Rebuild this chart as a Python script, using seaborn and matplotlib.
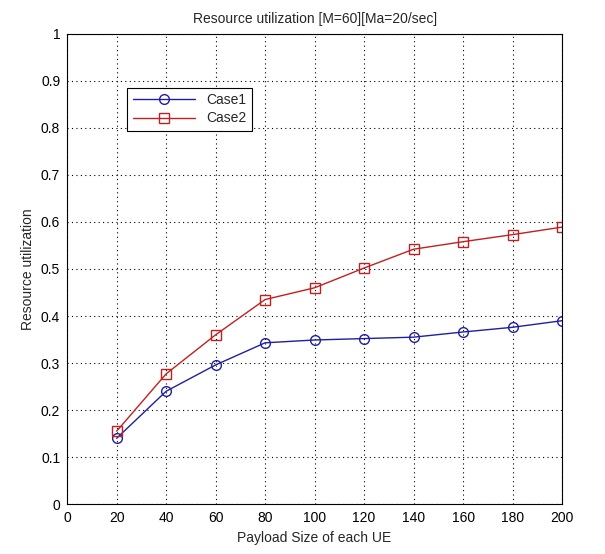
import numpy as np
import pandas as pd
import matplotlib
matplotlib.use('Agg')
import matplotlib.pyplot as plt
import seaborn as sns

payload = [20, 40, 60, 80, 100, 120, 140, 160, 180, 200]
case1 = [0.140, 0.240, 0.296, 0.343, 0.349, 0.352, 0.355, 0.366, 0.376, 0.390]
case2 = [0.155, 0.277, 0.360, 0.435, 0.460, 0.502, 0.542, 0.558, 0.573, 0.589]

df = pd.DataFrame({
    'Payload': payload * 2,
    'Util': case1 + case2,
    'Case': ['Case1'] * len(payload) + ['Case2'] * len(payload),
})

sns.set_theme(style='white')
plt.rcParams['font.family'] = ['Liberation Sans', 'DejaVu Sans']

fig = plt.figure(figsize=(6.05, 5.54), dpi=100)
ax = fig.add_axes([0.111, 0.09, 0.818, 0.849])

sns.lineplot(data=df, x='Payload', y='Util', hue='Case', style='Case',
             palette={'Case1': '#1f1f9f', 'Case2': '#c02020'},
             markers={'Case1': 'o', 'Case2': 's'}, dashes=False,
             markerfacecolor='none', markersize=7, markeredgewidth=1.0,
             linewidth=1.0, ax=ax)

# marker edges follow line colour
for line in ax.get_lines():
    line.set_markeredgecolor(line.get_color())
    line.set_markerfacecolor('none')

ax.set_xlim(0, 200)
ax.set_ylim(0, 1)
ax.set_xticks(np.arange(0, 201, 20))
ax.set_yticks(np.arange(0, 1.01, 0.1))
ax.set_yticklabels(['0', '0.1', '0.2', '0.3', '0.4', '0.5', '0.6', '0.7', '0.8', '0.9', '1'])
ax.grid(True, linestyle=(0, (1, 3)), color='black', linewidth=0.8)
ax.tick_params(direction='in', length=4, labelsize=10, colors='black', pad=5)
for s in ax.spines.values():
    s.set_color('black')
    s.set_linewidth(0.8)

ax.set_xlabel('Payload Size of each UE', fontsize=10)
ax.set_ylabel('Resource utilization', fontsize=10)
ax.set_title('Resource utilization [M=60][Ma=20/sec]', fontsize=10, pad=8)

leg = ax.legend(loc='upper left', bbox_to_anchor=(0.107, 0.9), fontsize=10,
                frameon=True, fancybox=False, edgecolor='black', framealpha=1,
                handlelength=4.5, borderpad=0.4, labelspacing=0.3)
leg.get_frame().set_linewidth(0.8)
for h in leg.legend_handles:
    h.set_markerfacecolor('none')
    h.set_markeredgecolor(h.get_color())

fig.savefig('out.png', dpi=100, facecolor='white')
